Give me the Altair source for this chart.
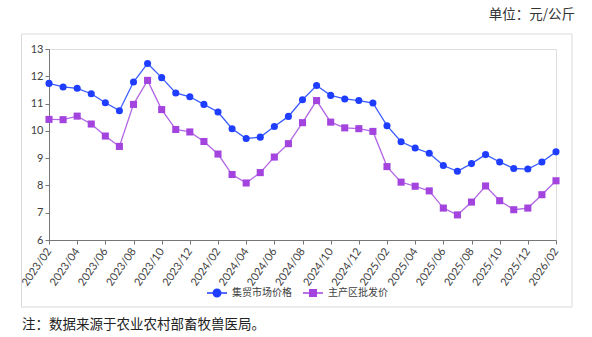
import altair as alt
import pandas as pd

months = [f"{y}/{m:02d}" for y in (2023, 2024, 2025, 2026) for m in range(1, 13)]
months = months[months.index("2023/02"):months.index("2026/02") + 1]

market_price = [11.74, 11.61, 11.56, 11.36, 11.03, 10.74, 11.79, 12.47, 11.95, 11.39,
                11.25, 10.97, 10.69, 10.08, 9.72, 9.77, 10.16, 10.53, 11.14, 11.66,
                11.30, 11.17, 11.11, 11.02, 10.19, 9.60, 9.37, 9.18, 8.73, 8.52,
                8.80, 9.13, 8.86, 8.62, 8.60, 8.86, 9.23]
wholesale_price = [10.42, 10.41, 10.54, 10.25, 9.81, 9.43, 10.97, 11.85, 10.78, 10.05,
                   9.96, 9.61, 9.15, 8.40, 8.09, 8.47, 9.04, 9.53, 10.30, 11.11,
                   10.32, 10.11, 10.08, 9.98, 8.69, 8.12, 7.97, 7.80, 7.17, 6.92,
                   7.39, 7.98, 7.44, 7.11, 7.17, 7.66, 8.17]

series_names = ["集贸市场价格", "主产区批发价"]
line_colors = ["#3a5cff", "#b366e6"]
point_colors = ["#1f3dff", "#a244dd"]
point_shapes = ["circle", "square"]
legend_paths = [
    "M-1,-0.07 L1,-0.07 L1,0.07 L-1,0.07 Z M0.45,0 A0.45,0.45 0 1,1 -0.45,0 A0.45,0.45 0 1,1 0.45,0 Z",
    "M-1,-0.07 L1,-0.07 L1,0.07 L-1,0.07 Z M-0.4,-0.4 L0.4,-0.4 L0.4,0.4 L-0.4,0.4 Z",
]
y_ticks = [6, 7, 8, 9, 10, 11, 12, 13]
unit_text = "单位：元/公斤"
note_text = "注：数据来源于农业农村部畜牧兽医局。"

rows = []
for i, name in enumerate(series_names):
    vals = market_price if i == 0 else wholesale_price
    for m, v in zip(months, vals):
        rows.append({"month": m, "price": v, "series": name,
                     "lc": line_colors[i], "pc": point_colors[i], "shape": point_shapes[i]})
df = pd.DataFrame(rows)

W, H = 507, 191
CJK = "Noto Sans CJK SC"

x_enc = alt.X("month:O", sort=months, scale=alt.Scale(type="point", padding=0),
              axis=alt.Axis(values=months[::2], labelAngle=-55, title=None,
                            labelFontSize=11, labelFont="Lato", labelColor="#404040",
                            domainColor="#777777", tickColor="#777777", tickSize=4,
                            labelPadding=5, grid=False))
y_enc = alt.Y("price:Q", scale=alt.Scale(domain=[6, 13], nice=False, zero=False),
              axis=alt.Axis(values=y_ticks, title=None, labelFontSize=11, labelFont="Lato",
                            labelColor="#404040", domainColor="#777777", tickColor="#777777",
                            tickSize=4, labelPadding=2, grid=False))

base = alt.Chart(df)

lines = base.mark_line(strokeWidth=1.3).encode(
    x=x_enc, y=y_enc,
    color=alt.Color("lc:N", scale=None),
    detail="series:N",
)
points = base.mark_point(filled=True, size=50, opacity=1).encode(
    x=x_enc, y=y_enc,
    color=alt.Color("pc:N", scale=None),
    shape=alt.Shape("shape:N", scale=None),
)
legend_layer = base.transform_filter("false").mark_point(filled=True, opacity=1).encode(
    x=x_enc, y=y_enc,
    color=alt.Color("series:N", scale=alt.Scale(domain=series_names, range=point_colors),
                    legend=alt.Legend(title=None, orient="none", legendX=157, legendY=233,
                                      direction="horizontal", symbolSize=400,
                                      labelFont=CJK, labelFontSize=10, labelColor="#404040",
                                      labelOffset=4, columnPadding=10, symbolOpacity=1)),
    shape=alt.Shape("series:N", scale=alt.Scale(domain=series_names, range=legend_paths)),
)

deco = pd.DataFrame({"k": [0]})
frame = alt.Chart(deco).mark_rect(fillOpacity=0, stroke="#d9d9d9", strokeWidth=1).encode(
    x=alt.value(-27.5), x2=alt.value(523), y=alt.value(-15), y2=alt.value(258))
unit = alt.Chart(deco).mark_text(text=unit_text, align="right", baseline="middle",
                                 font=CJK, fontSize=13.5, color="#333333").encode(
    x=alt.value(526), y=alt.value(-34))
note = alt.Chart(deco).mark_text(text=note_text, align="left", baseline="middle",
                                 font=CJK, fontSize=13.5, color="#222222").encode(
    x=alt.value(-27), y=alt.value(276))

chart = alt.layer(frame, lines, points, legend_layer, unit, note).properties(
    width=W, height=H,
    autosize=alt.AutoSizeParams(type="none"),
    padding={"left": 49, "top": 49, "right": 36, "bottom": 97},
).configure_view(stroke=None).configure(background="white")

chart.save("out.html", embed_options={"renderer": "svg", "actions": False})
